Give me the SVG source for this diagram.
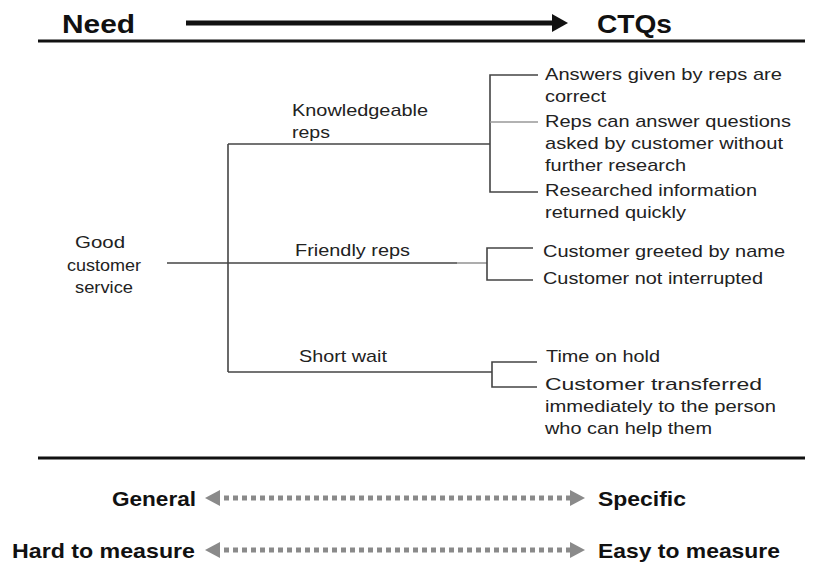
<svg xmlns="http://www.w3.org/2000/svg" width="813" height="572" viewBox="0 0 813 572">
<style>
.t{font-family:"Liberation Sans",Arial,sans-serif;font-size:17px;fill:#222}
.b{font-family:"Liberation Sans",Arial,sans-serif;font-weight:bold;fill:#111}
.h{font-size:25px}
.s{font-size:21px}
.ln{stroke:#444;stroke-width:1.6;fill:none}
.lt{stroke:#999;stroke-width:1.6;fill:none}
.rule{stroke:#111;stroke-width:3;fill:none}
.dash{stroke:#8a8a8a;stroke-width:5;stroke-dasharray:5 4;fill:none}
</style>
<rect width="813" height="572" fill="#fff"/>
<g id="header">
<text class="b h" x="62" y="33" textLength="73" lengthAdjust="spacingAndGlyphs">Need</text>
<line x1="186" y1="23" x2="554" y2="23" stroke="#111" stroke-width="5"/>
<polygon points="552,14 568,23 552,32" fill="#111"/>
<text class="b h" x="597" y="33" textLength="75" lengthAdjust="spacingAndGlyphs">CTQs</text>
<line class="rule" x1="38" y1="41" x2="805" y2="41"/>
</g>
<g id="connectors">
<line class="ln" x1="167" y1="263" x2="457" y2="263"/>
<line class="lt" x1="457" y1="263" x2="487" y2="263"/>
<line class="ln" x1="228" y1="144" x2="228" y2="372"/>
<line class="ln" x1="228" y1="144" x2="490" y2="144"/>
<line class="ln" x1="228" y1="372" x2="492" y2="372"/>
<polyline class="ln" points="538,75 490,75 490,192 538,192"/>
<line class="lt" x1="490" y1="122" x2="538" y2="122"/>
<polyline class="ln" points="533,248 487,248 487,280 533,280"/>
<polyline class="ln" points="537,362 492,362 492,387 537,387"/>
</g>
<g id="need">
<text class="t" x="100" y="248" text-anchor="middle" textLength="50" lengthAdjust="spacingAndGlyphs">Good</text>
<text class="t" x="104" y="271" text-anchor="middle" textLength="74" lengthAdjust="spacingAndGlyphs">customer</text>
<text class="t" x="104" y="293" text-anchor="middle" textLength="58" lengthAdjust="spacingAndGlyphs">service</text>
</g>
<g id="knowledgeable">
<text class="t" x="292" y="116" textLength="136" lengthAdjust="spacingAndGlyphs">Knowledgeable</text>
<text class="t" x="292" y="138" textLength="38" lengthAdjust="spacingAndGlyphs">reps</text>
</g>
<g id="friendly">
<text class="t" x="295" y="256" textLength="115" lengthAdjust="spacingAndGlyphs">Friendly reps</text>
</g>
<g id="shortwait">
<text class="t" x="299" y="362" textLength="88" lengthAdjust="spacingAndGlyphs">Short wait</text>
</g>
<g id="ctq-answers">
<text class="t" x="545" y="80" textLength="237" lengthAdjust="spacingAndGlyphs">Answers given by reps are</text>
<text class="t" x="545" y="102" textLength="61" lengthAdjust="spacingAndGlyphs">correct</text>
</g>
<g id="ctq-reps">
<text class="t" x="545" y="127" textLength="246" lengthAdjust="spacingAndGlyphs">Reps can answer questions</text>
<text class="t" x="545" y="149" textLength="238" lengthAdjust="spacingAndGlyphs">asked by customer without</text>
<text class="t" x="545" y="171" textLength="141" lengthAdjust="spacingAndGlyphs">further research</text>
</g>
<g id="ctq-researched">
<text class="t" x="545" y="196" textLength="212" lengthAdjust="spacingAndGlyphs">Researched information</text>
<text class="t" x="545" y="218" textLength="141" lengthAdjust="spacingAndGlyphs">returned quickly</text>
</g>
<g id="ctq-greeted">
<text class="t" x="543" y="257" textLength="242" lengthAdjust="spacingAndGlyphs">Customer greeted by name</text>
</g>
<g id="ctq-interrupted">
<text class="t" x="543" y="284" textLength="220" lengthAdjust="spacingAndGlyphs">Customer not interrupted</text>
</g>
<g id="ctq-hold">
<text class="t" x="546" y="362" textLength="114" lengthAdjust="spacingAndGlyphs">Time on hold</text>
</g>
<g id="ctq-transferred">
<text class="t" x="545" y="390" textLength="217" lengthAdjust="spacingAndGlyphs">Customer transferred</text>
<text class="t" x="545" y="412" textLength="231" lengthAdjust="spacingAndGlyphs">immediately to the person</text>
<text class="t" x="545" y="434" textLength="167" lengthAdjust="spacingAndGlyphs">who can help them</text>
</g>
<g id="scale">
<line class="rule" x1="38" y1="458" x2="805" y2="458"/>
<text class="b s" x="112" y="506" textLength="84" lengthAdjust="spacingAndGlyphs">General</text>
<polygon points="205,498 220,490 220,506" fill="#8a8a8a"/>
<line class="dash" x1="224" y1="498" x2="570" y2="498"/>
<polygon points="585,498 570,490 570,506" fill="#8a8a8a"/>
<text class="b s" x="598" y="506" textLength="88" lengthAdjust="spacingAndGlyphs">Specific</text>
<text class="b s" x="12" y="558" textLength="183" lengthAdjust="spacingAndGlyphs">Hard to measure</text>
<polygon points="205,550 220,542 220,558" fill="#8a8a8a"/>
<line class="dash" x1="224" y1="550" x2="570" y2="550"/>
<polygon points="585,550 570,542 570,558" fill="#8a8a8a"/>
<text class="b s" x="598" y="558" textLength="182" lengthAdjust="spacingAndGlyphs">Easy to measure</text>
</g>
</svg>
